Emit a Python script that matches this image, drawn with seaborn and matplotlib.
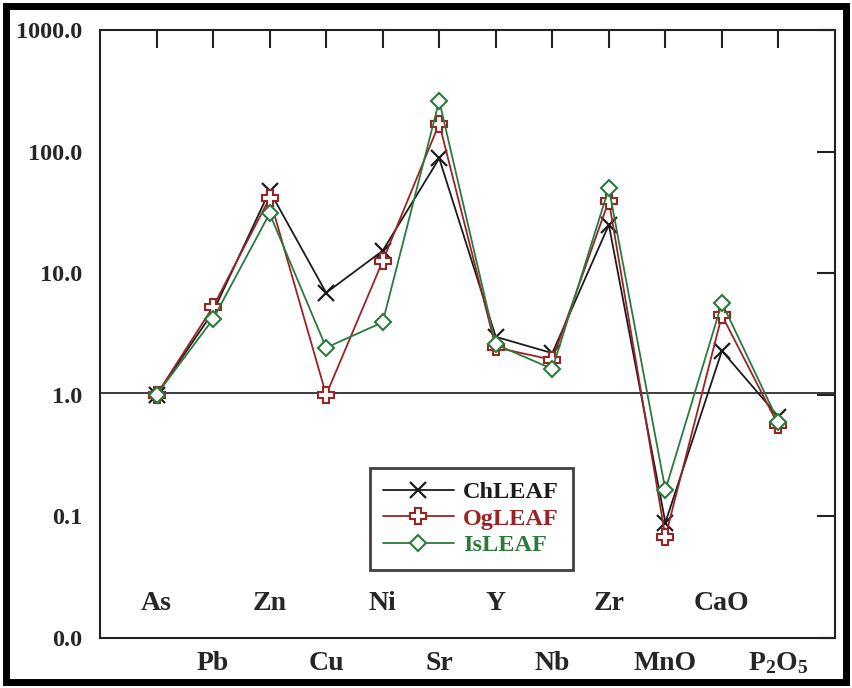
import numpy as np
import pandas as pd
import matplotlib
matplotlib.use("Agg")
import matplotlib.pyplot as plt
import seaborn as sns
from matplotlib.patches import Rectangle
import matplotlib.transforms as mtransforms

categories = ["As", "Pb", "Zn", "Cu", "Ni", "Sr", "Y", "Nb", "Zr", "MnO", "CaO", "P2O5"]
cat_labels = ["As", "Pb", "Zn", "Cu", "Ni", "Sr", "Y", "Nb", "Zr", "MnO", "CaO", r"P$_2$O$_5$"]
chleaf = [1.0, 4.8, 47.5, 6.9, 15.3, 88.0, 3.0, 2.2, 25.0, 0.089, 2.3, 0.66]
ogleaf = [1.0, 5.3, 41.5, 1.0, 12.6, 170.0, 2.45, 1.94, 39.5, 0.068, 4.5, 0.56]
isleaf = [1.0, 4.2, 31.0, 2.44, 3.95, 262.0, 2.6, 1.63, 50.0, 0.165, 5.7, 0.60]
series_names = ["ChLEAF", "OgLEAF", "IsLEAF"]
ytick_vals = [0.01, 0.1, 1, 10, 100, 1000]
ytick_labels = ["0.0", "0.1", "1.0", "10.0", "100.0", "1000.0"]

colors = {"ChLEAF": "#1c1c1c", "OgLEAF": "#9a2424", "IsLEAF": "#2b7a3c"}

sns.set_style("white")
plt.rcParams["font.family"] = ["Liberation Serif", "DejaVu Serif"]
plt.rcParams["font.weight"] = "bold"
plt.rcParams["mathtext.fontset"] = "custom"
plt.rcParams["mathtext.rm"] = "Liberation Serif:bold"
plt.rcParams["mathtext.it"] = "Liberation Serif:bold"
plt.rcParams["mathtext.bf"] = "Liberation Serif:bold"

df = pd.DataFrame({
    "x": list(range(len(categories))) * 3,
    "value": chleaf + ogleaf + isleaf,
    "series": sum([[s] * len(categories) for s in series_names], []),
})

fig = plt.figure(figsize=(8.53, 6.88), dpi=100)
ax = fig.add_axes([100 / 853, 50 / 688, 735 / 853, 608 / 688])

ax.axhline(1.03, color="#1a1a1a", lw=1.2, zorder=1)

styles = {
    "ChLEAF": dict(marker="x", markersize=11, markeredgewidth=1.6, markerfacecolor="none"),
    "OgLEAF": dict(marker="P", markersize=12, markeredgewidth=1.5, markerfacecolor="white"),
    "IsLEAF": dict(marker="D", markersize=8, markeredgewidth=1.5, markerfacecolor="white"),
}
for s in series_names:
    sub = df[df["series"] == s]
    sns.lineplot(data=sub, x="x", y="value", ax=ax, color=colors[s], lw=1.3,
                 markeredgecolor=colors[s], label=s, sort=False, zorder=3, **styles[s])

ax.set_yscale("log")
ax.set_ylim(0.01, 1000)
ax.set_xlim(-1, 12)
ax.set_yticks(ytick_vals)
ax.set_yticklabels(ytick_labels)
ax.minorticks_off()
ax.set_xticks(range(len(categories)))
ax.set_xticklabels([lab if i % 2 == 1 else "" for i, lab in enumerate(cat_labels)])
ax.set_xlabel("")
ax.set_ylabel("")
ax.tick_params(axis="both", direction="in", length=13, width=1.5, color="#222222",
               top=True, right=True)
ax.tick_params(axis="x", pad=9, labelsize=20)
ax.tick_params(axis="y", pad=13, labelsize=17.5)
for lab in ax.get_xticklabels() + ax.get_yticklabels():
    lab.set_fontweight("bold")

trans = mtransforms.blended_transform_factory(ax.transData, ax.transAxes)
for i, lab in enumerate(cat_labels):
    if i % 2 == 0:
        ax.text(i, 0.056, lab, transform=trans, ha="center", va="center",
                fontsize=20, fontweight="bold")

for sp in ax.spines.values():
    sp.set_visible(True)
    sp.set_color("#222222")
    sp.set_linewidth(1.5)

leg = ax.legend(loc="upper left", bbox_to_anchor=(0.367, 0.2796), fontsize=17.5,
                frameon=True, fancybox=False, edgecolor="#111111", handlelength=2.9,
                borderpad=0.55, labelspacing=0.18, handletextpad=0.4, borderaxespad=0)
leg.get_frame().set_linewidth(2)
for txt, s in zip(leg.get_texts(), series_names):
    txt.set_color(colors[s])
    txt.set_fontweight("bold")

fig.patches.append(Rectangle((6 / 853, 6 / 688), 840 / 853, 676 / 688, transform=fig.transFigure,
                             fill=False, edgecolor="black", linewidth=5, zorder=10))

fig.savefig("out.png", dpi=100, facecolor="white")
